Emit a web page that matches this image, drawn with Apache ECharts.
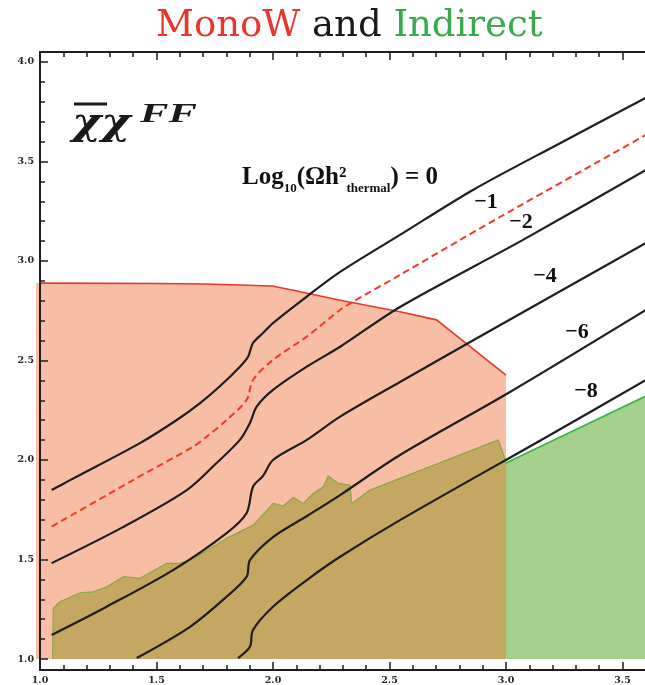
<!DOCTYPE html>
<html>
<head>
<meta charset="utf-8">
<script src="https://cdn.jsdelivr.net/npm/echarts@6/dist/echarts.min.js"></script>
<style>
  html, body { margin: 0; padding: 0; background: #ffffff; }
  #chart { width: 645px; height: 685px; }
</style>
</head>
<body>
<div id="chart"></div>
<script>
// Relic-density contours log10(Ωh²_thermal), points as [x, y]
const relic0 = [[1.050,1.849],[1.129,1.899],[1.429,2.085],[1.587,2.201],[1.687,2.286],[1.773,2.372],[1.858,2.469],[1.893,2.519],[1.914,2.588],[1.957,2.638],[2.0,2.688],[2.145,2.821],[2.288,2.945],[2.545,3.131],[2.858,3.357],[3.232,3.592],[3.6,3.820]];
const relicM1 = [[1.050,1.665],[1.399,1.899],[1.657,2.067],[1.715,2.117],[1.801,2.201],[1.887,2.302],[1.914,2.402],[2.0,2.503],[2.145,2.620],[2.288,2.754],[2.343,2.795],[2.545,2.930],[2.803,3.106],[2.974,3.221],[3.6,3.633]];
const relicM2 = [[1.050,1.482],[1.356,1.663],[1.630,1.849],[1.758,1.985],[1.858,2.101],[1.901,2.186],[1.930,2.268],[2.0,2.352],[2.145,2.469],[2.288,2.569],[2.545,2.769],[3.073,3.106],[3.6,3.457]];
const relicM4 = [[1.050,1.121],[1.286,1.263],[1.571,1.447],[1.801,1.633],[1.887,1.734],[1.914,1.866],[1.957,1.920],[2.0,2.0],[2.145,2.101],[2.288,2.218],[2.545,2.392],[2.831,2.583],[3.6,3.090]];
const relicM6 = [[1.415,1.005],[1.644,1.162],[1.801,1.313],[1.887,1.414],[1.901,1.497],[2.0,1.613],[2.146,1.719],[2.288,1.824],[2.545,2.025],[3.017,2.342],[3.6,2.754]];
const relicM8 = [[1.850,1.005],[1.901,1.062],[1.914,1.146],[2.0,1.263],[2.145,1.397],[2.288,1.514],[2.545,1.698],[3.189,2.126],[3.6,2.402]];

// Upper edges of the excluded regions
const monoWTop = [[0.983,2.889],[1.5,2.887],[1.712,2.884],[1.996,2.874],[2.082,2.854],[2.283,2.804],[2.545,2.745],[2.702,2.704],[3.0,2.427]];
const indirectTop = [[1.054,1.0],[1.057,1.255],[1.086,1.288],[1.172,1.333],[1.229,1.338],[1.286,1.363],[1.358,1.414],[1.429,1.406],[1.544,1.481],[1.601,1.481],[1.673,1.514],[1.801,1.607],[1.915,1.673],[2.001,1.782],[2.044,1.769],[2.087,1.813],[2.130,1.782],[2.173,1.833],[2.216,1.866],[2.237,1.920],[2.280,1.883],[2.330,1.874],[2.338,1.782],[2.416,1.849],[2.967,2.101],[3.0,1.991]];
const indirectTopRight = [[3.0,1.985],[3.6,2.321]];

// Contour labels and where they sit
const contourLabels = ['\u22121', '\u22122', '\u22124', '\u22126', '\u22128'];
const contourLabelPos = [[2.914,3.296],[3.064,3.196],[3.167,2.925],[3.305,2.643],[3.343,2.347]];
const logLabelPos = [1.867, 3.419];

// Axis ticks
const yMajor = [1.0, 1.5, 2.0, 2.5, 3.0, 3.5, 4.0];
const yMinor = [1.1,1.2,1.3,1.4,1.6,1.7,1.8,1.9,2.1,2.2,2.3,2.4,2.6,2.7,2.8,2.9,3.1,3.2,3.3,3.4,3.6,3.7,3.8,3.9];

const floorY = 1.0;
const pinkFill = '#f8bea5', khakiFill = '#c4a862', greenFill = '#a4d18b';
const ink = '#1e1e1e';

function polygonSeries(points, fill) {
  return {
    type: 'custom', xAxisIndex: 0, yAxisIndex: 0, silent: true, clip: false, z: 1,
    data: [0],
    renderItem: function (params, api) {
      return { type: 'polygon', shape: { points: points.map(p => api.coord(p)) }, style: { fill: fill } };
    }
  };
}
function curveSeries(data, color, width, dash) {
  return {
    type: 'line', xAxisIndex: 0, yAxisIndex: 0, data: data, showSymbol: false, silent: true,
    smooth: 0.3, z: 4,
    lineStyle: { color: color, width: width, type: dash || 'solid', cap: 'butt' }
  };
}
function edgeSeries(data, color, width) {
  return {
    type: 'line', xAxisIndex: 0, yAxisIndex: 0, data: data, showSymbol: false, silent: true,
    clip: false, z: 3, lineStyle: { color: color, width: width }
  };
}

const tickFont = { fontFamily: 'DejaVu Serif', fontWeight: 'bold', fontSize: 9.5, color: '#2a2a2a' };
const gridBox = { left: 40, top: 52, width: 699, height: 618, outerBoundsMode: 'none' };
const labelInk = '#111111';

const chart = echarts.init(document.getElementById('chart'), null, { renderer: 'canvas' });
chart.setOption({
  animation: false,
  backgroundColor: '#ffffff',
  title: {
    left: 151, top: 3,
    text: '{r|MonoW} {k|and} {g|Indirect}',
    textStyle: {
      fontFamily: 'DejaVu Serif', fontSize: 37, fontWeight: 'normal', color: '#1a1a1a',
      rich: {
        r: { fontFamily: 'DejaVu Serif', fontSize: 37, color: '#e8362c' },
        k: { fontFamily: 'DejaVu Serif', fontSize: 37, color: '#1a1a1a' },
        g: { fontFamily: 'DejaVu Serif', fontSize: 37, color: '#3aaa4c' }
      }
    }
  },
  grid: [Object.assign({}, gridBox), Object.assign({}, gridBox)],
  xAxis: [
    {
      type: 'value', gridIndex: 0, position: 'bottom', min: 1.0, max: 4.0, interval: 0.5, z: 10,
      axisLine: { show: true, onZero: false, lineStyle: { color: ink, width: 2 } },
      axisTick: { show: true, inside: true, length: 8, lineStyle: { color: ink, width: 1.5 } },
      minorTick: { show: true, splitNumber: 5, length: 5, lineStyle: { color: ink, width: 1.5 } },
      axisLabel: Object.assign({ margin: 6, formatter: v => v.toFixed(1), showMaxLabel: false }, tickFont),
      splitLine: { show: false }, minorSplitLine: { show: false }
    },
    {
      type: 'value', gridIndex: 1, position: 'top', min: 1.0, max: 4.0, interval: 0.5, z: 10,
      axisLine: { show: true, onZero: false, lineStyle: { color: ink, width: 2 } },
      axisTick: { show: true, inside: true, length: 8, lineStyle: { color: ink, width: 1.5 } },
      minorTick: { show: true, splitNumber: 5, length: 5, lineStyle: { color: ink, width: 1.5 } },
      axisLabel: { show: false },
      splitLine: { show: false }, minorSplitLine: { show: false }
    }
  ],
  yAxis: [
    {
      type: 'value', gridIndex: 0, position: 'left', min: 0.945, max: 4.05, z: 10,
      axisLine: { show: true, onZero: false, lineStyle: { color: ink, width: 2 } },
      axisTick: { show: true, inside: true, length: 8, customValues: yMajor, lineStyle: { color: ink, width: 1.5 } },
      axisLabel: Object.assign({ margin: 6, customValues: yMajor, formatter: v => v.toFixed(1) }, tickFont),
      splitLine: { show: false }
    },
    {
      type: 'value', gridIndex: 1, position: 'left', min: 0.945, max: 4.05, z: 10,
      axisLine: { show: false, onZero: false },
      axisTick: { show: true, inside: true, length: 5, customValues: yMinor, lineStyle: { color: ink, width: 1.5 } },
      axisLabel: { show: false },
      splitLine: { show: false }
    }
  ],
  graphic: [
    // panel tag: χ̄ χ FF
    { type: 'text', x: 72, y: 124, z: 20, scaleX: 1.2,
      style: { text: '\u03c7\u03c7', font: 'italic bold 37px "DejaVu Serif"', fill: '#1a1a1a', verticalAlign: 'middle' } },
    { type: 'text', x: 140, y: 115, z: 20, scaleX: 1.52,
      style: { text: 'FF', font: 'italic bold 28px "Liberation Serif"', fill: '#1a1a1a', verticalAlign: 'middle' } },
    { type: 'line', z: 20, shape: { x1: 74, y1: 104, x2: 107, y2: 104 }, style: { stroke: '#1a1a1a', lineWidth: 3 } }
  ],
  series: [
    polygonSeries([[monoWTop[0][0], floorY]].concat(monoWTop, [[3.0, floorY]]), pinkFill),
    polygonSeries(indirectTop.concat([[3.0, floorY]]), khakiFill),
    polygonSeries([[3.0, floorY]].concat(indirectTopRight, [[3.6, floorY]]), greenFill),
    edgeSeries(monoWTop, '#e8362c', 1.6),
    edgeSeries(indirectTop, '#8aa845', 1.2),
    edgeSeries(indirectTopRight, '#3bb44a', 1.8),
    curveSeries(relic0, ink, 2.2),
    curveSeries(relicM1, '#f03a2a', 2, [7, 4]),
    curveSeries(relicM2, ink, 2.2),
    curveSeries(relicM4, ink, 2.2),
    curveSeries(relicM6, ink, 2.2),
    curveSeries(relicM8, ink, 2.2),
    {
      type: 'scatter', xAxisIndex: 0, yAxisIndex: 0, symbolSize: 0, silent: true, z: 6,
      itemStyle: { opacity: 1 },
      data: contourLabelPos.map((p, i) => ({ value: p, name: contourLabels[i] })),
      label: { show: true, position: 'inside', formatter: p => p.name,
        fontFamily: 'Liberation Serif', fontWeight: 'bold', fontSize: 22, color: labelInk,
        textBorderWidth: 0 }
    },
    {
      type: 'scatter', xAxisIndex: 0, yAxisIndex: 0, symbolSize: 0, silent: true, z: 6,
      itemStyle: { opacity: 1 },
      data: [logLabelPos],
      label: {
        show: true, position: 'right', distance: 0, color: labelInk, textBorderWidth: 0,
        formatter: '{m|Log}{s|10}{m|(\u03a9h\u00b2}{s|thermal}{m|) = 0}',
        rich: {
          m: { fontFamily: 'Liberation Serif', fontWeight: 'bold', fontSize: 25, lineHeight: 36, verticalAlign: 'middle', color: labelInk },
          s: { fontFamily: 'Liberation Serif', fontWeight: 'bold', fontSize: 13, lineHeight: 13, verticalAlign: 'bottom', color: labelInk }
        }
      }
    }
  ]
});
</script>
</body>
</html>
